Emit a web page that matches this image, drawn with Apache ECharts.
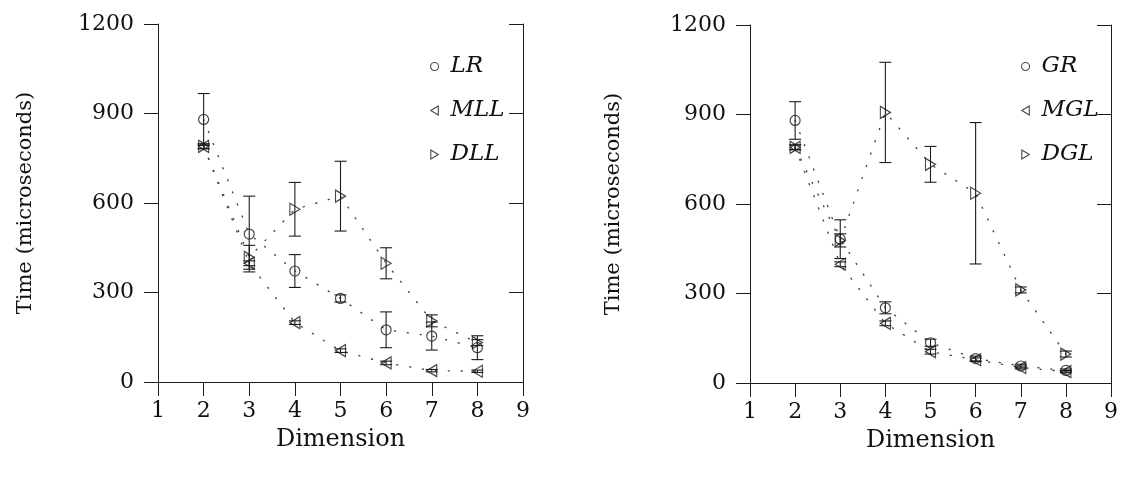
<!DOCTYPE html>
<html>
<head>
<meta charset="utf-8">
<title>Time vs Dimension</title>
<script src="https://cdn.jsdelivr.net/npm/echarts@6/dist/echarts.min.js"></script>
<style>
  html, body { margin: 0; padding: 0; background: #fff; }
  #chart { width: 1121px; height: 477px; }
</style>
</head>
<body>
<div id="chart"></div>
<script>
// Problem dimension (x values shared by every series)
const dims = [2, 3, 4, 5, 6, 7, 8];

// Left panel: mean time (microseconds) and half-width of the error bar
const lrMean  = [880, 496, 372, 280, 175, 154, 115];
const lrErr   = [87, 127, 55, 12, 60, 47, 40];
const mllMean = [790, 398, 199, 105, 64, 38, 36];
const mllErr  = [8, 8, 6, 6, 6, 4, 4];
const dllMean = [790, 418, 579, 623, 398, 205, 132];
const dllErr  = [8, 40, 90, 117, 52, 20, 10];

// Right panel
const grMean  = [880, 482, 252, 135, 82, 57, 42];
const grErr   = [63, 65, 20, 12, 8, 6, 5];
const mglMean = [790, 398, 200, 105, 78, 52, 38];
const mglErr  = [8, 8, 8, 8, 6, 5, 4];
const dglMean = [790, 478, 907, 733, 636, 312, 97];
const dglErr  = [8, 22, 168, 60, 237, 10, 10];

// Axis ranges and labels
const xTicks = [1, 2, 3, 4, 5, 6, 7, 8, 9];
const yTicks = [0, 300, 600, 900, 1200];
const xTitle = 'Dimension';
const yTitle = 'Time (microseconds)';

const INK = '#1c1c1c';
const SERIF = '"DejaVu Serif", "Liberation Serif", serif';

const TRI_LEFT  = 'path://M0,6L10,0L10,12Z';
const TRI_RIGHT = 'path://M10,6L0,0L0,12Z';

const pairs = (ys) => dims.map((d, i) => [d, ys[i]]);
const bars = (ys, es) => dims.map((d, i) => [d, ys[i] - es[i], ys[i] + es[i]]);

function errorBarSeries(name, ys, es, gi) {
  return {
    name: name + ' err',
    type: 'custom',
    xAxisIndex: gi * 2,
    yAxisIndex: gi * 2,
    z: 3,
    silent: true,
    data: bars(ys, es),
    renderItem: function (params, api) {
      const x = api.value(0);
      const lo = api.coord([x, api.value(1)]);
      const hi = api.coord([x, api.value(2)]);
      const cap = 6;
      const st = { stroke: INK, lineWidth: 1.1 };
      return {
        type: 'group',
        children: [
          { type: 'line', shape: { x1: lo[0], y1: lo[1], x2: hi[0], y2: hi[1] }, style: st },
          { type: 'line', shape: { x1: lo[0] - cap, y1: lo[1], x2: lo[0] + cap, y2: lo[1] }, style: st },
          { type: 'line', shape: { x1: hi[0] - cap, y1: hi[1], x2: hi[0] + cap, y2: hi[1] }, style: st }
        ]
      };
    }
  };
}

function dottedLine(name, ys, gi) {
  return {
    name: name + ' trend',
    type: 'line',
    xAxisIndex: gi * 2,
    yAxisIndex: gi * 2,
    z: 2,
    silent: true,
    showSymbol: false,
    symbol: 'none',
    data: pairs(ys),
    lineStyle: { color: '#444', width: 1.4, type: [1, 12], cap: 'round' }
  };
}

function markers(name, ys, symbol, size, gi) {
  return {
    name: name,
    type: 'scatter',
    xAxisIndex: gi * 2,
    yAxisIndex: gi * 2,
    z: 5,
    symbol: symbol,
    symbolSize: size,
    data: pairs(ys),
    itemStyle: { color: 'rgba(255,255,255,0)', borderColor: INK, borderWidth: 1.2 }
  };
}

const grids = [
  { left: 158, right: 598, top: 24, bottom: 95 },
  { left: 750, right: 8, top: 25, bottom: 94 }
];

const xAxes = [];
const yAxes = [];
grids.forEach((g, gi) => {
  const line = { show: true, lineStyle: { color: INK, width: 1 } };
  xAxes.push({
    gridIndex: gi, type: 'value', position: 'bottom',
    min: xTicks[0], max: xTicks[xTicks.length - 1], interval: 1,
    axisLine: line,
    axisTick: { show: true, inside: false, length: 14, lineStyle: { color: INK } },
    axisLabel: { margin: 18, fontFamily: SERIF, fontSize: 22, color: '#111' },
    splitLine: { show: false },
    name: xTitle, nameLocation: 'middle', nameGap: 46,
    nameTextStyle: { fontFamily: SERIF, fontSize: 24, color: '#111' }
  });
  xAxes.push({
    gridIndex: gi, type: 'value', position: 'top',
    min: xTicks[0], max: xTicks[xTicks.length - 1], interval: 1,
    axisLine: line,
    axisTick: { show: true, inside: true, length: 14, lineStyle: { color: INK } },
    axisLabel: { show: false },
    splitLine: { show: false }
  });
  yAxes.push({
    gridIndex: gi, type: 'value', position: 'left',
    min: yTicks[0], max: yTicks[yTicks.length - 1], interval: 300,
    axisLine: line,
    axisTick: { show: true, inside: false, length: 14, lineStyle: { color: INK } },
    axisLabel: { margin: 24, fontFamily: SERIF, fontSize: 22, color: '#111', formatter: (v) => String(v) },
    splitLine: { show: false },
    name: yTitle, nameLocation: 'middle', nameGap: gi === 0 ? 122 : 126, nameRotate: 90,
    nameTextStyle: { fontFamily: SERIF, fontSize: 21, color: '#111' }
  });
  yAxes.push({
    gridIndex: gi, type: 'value', position: 'right',
    min: yTicks[0], max: yTicks[yTicks.length - 1], interval: 300,
    axisLine: line,
    axisTick: { show: true, inside: true, length: 14, lineStyle: { color: INK } },
    axisLabel: { show: false },
    splitLine: { show: false }
  });
});

const panels = [
  [['LR', lrMean, lrErr, 'circle', 10], ['MLL', mllMean, mllErr, TRI_LEFT, [10, 12]], ['DLL', dllMean, dllErr, TRI_RIGHT, [10, 12]]],
  [['GR', grMean, grErr, 'circle', 10], ['MGL', mglMean, mglErr, TRI_LEFT, [10, 12]], ['DGL', dglMean, dglErr, TRI_RIGHT, [10, 12]]]
];

const series = [];
panels.forEach((p, gi) => {
  p.forEach(([name, ys, es, sym, size]) => {
    series.push(dottedLine(name, ys, gi));
    series.push(errorBarSeries(name, ys, es, gi));
    series.push(markers(name, ys, sym, size, gi));
  });
});

const legendBase = {
  orient: 'vertical',
  itemWidth: 8,
  itemHeight: 9,
  itemGap: 21,
  selectedMode: false,
  textStyle: { fontFamily: SERIF, fontStyle: 'italic', fontSize: 23, color: '#111', padding: [0, 0, 0, 7] },
  itemStyle: { color: 'rgba(255,255,255,0)', borderColor: INK, borderWidth: 1.1 }
};

const option = {
  backgroundColor: '#fff',
  animation: false,
  grid: grids,
  xAxis: xAxes,
  yAxis: yAxes,
  legend: [
    Object.assign({}, legendBase, { left: 425, top: 50, data: panels[0].map(s => s[0]) }),
    Object.assign({}, legendBase, { left: 1016, top: 50, data: panels[1].map(s => s[0]) })
  ],
  series: series
};

const chart = echarts.init(document.getElementById('chart'), null, { renderer: 'canvas' });
chart.setOption(option);
</script>
</body>
</html>
